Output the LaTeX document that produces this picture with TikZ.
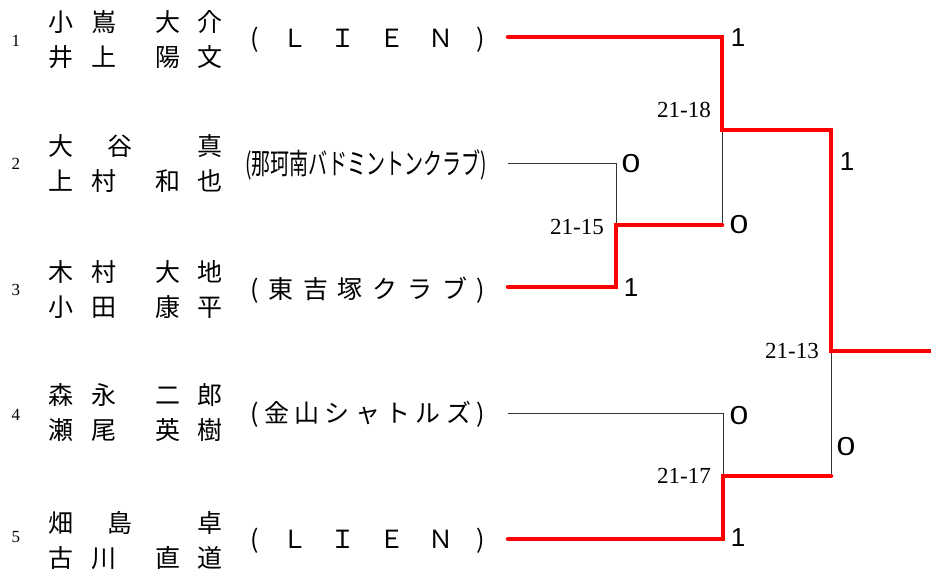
\documentclass[tikz,border=0pt]{standalone}
\usepackage{fontspec}
\usepackage{graphicx}
\setmainfont{Liberation Serif}
\newfontfamily\jpfont{Noto Sans CJK JP}
\newfontfamily\scorefont{Liberation Sans}

% name columns: four characters, or three with a gap
\newcommand{\fullname}[4]{\makebox[43pt][l]{#1}\makebox[64pt][l]{#2}\makebox[42pt][l]{#3}#4}
\newcommand{\gapname}[3]{\makebox[59pt][l]{#1}\makebox[90pt][l]{#2}#3}
\newcommand{\clubname}[1]{\makebox[235pt][s]{#1}}
\newcommand{\widezero}{\scalebox{1.3}[1]{0}}

\tikzset{
  win/.style={draw=red, line width=4.5pt, line cap=round},
  lose/.style={draw=black!80, line width=0.8pt}
}

\begin{document}
\begin{tikzpicture}[x=1pt, y=-1pt]
  \useasboundingbox (0,0) rectangle (931,571);

  % Seeds
  \begin{scope}[every node/.style={inner sep=0pt, font=\fontsize{17}{17}\selectfont}]
    \node (s1) at (16,41) {1};
    \node (s2) at (16,164) {2};
    \node (s3) at (16,290) {3};
    \node (s4) at (16,415) {4};
    \node (s5) at (16,537) {5};
  \end{scope}

  % Players
  \begin{scope}[every node/.style={anchor=west, inner sep=0pt, align=left,
      font=\jpfont\fontsize{25}{35}\selectfont}]
    \node (p1) at (48.5,40) {\fullname{小}{嶌}{大}{介}\\\fullname{井}{上}{陽}{文}};
    \node (p2) at (48.5,163) {\gapname{大}{谷}{真}\\\fullname{上}{村}{和}{也}};
    \node (p3) at (48.5,290) {\fullname{木}{村}{大}{地}\\\fullname{小}{田}{康}{平}};
    \node (p4) at (48.5,412) {\fullname{森}{永}{二}{郎}\\\fullname{瀬}{尾}{英}{樹}};
    \node (p5) at (48.5,541) {\gapname{畑}{島}{卓}\\\fullname{古}{川}{直}{道}};
  \end{scope}

  % Clubs
  \begin{scope}[every node/.style={anchor=west, inner sep=0pt,
      font=\jpfont\fontsize{25}{25}\selectfont}]
    \node (c1) at (250,40) {\clubname{(\hfill Ｌ\hfill Ｉ\hfill Ｅ\hfill Ｎ\hfill )}};
    \node[font=\jpfont\fontsize{29}{29}\selectfont] (c2) at (245,165)
      {\resizebox{242pt}{\height}{(那珂南バドミントンクラブ)}};
    \node (c3) at (250,290) {\clubname{(\hfill 東\hfill 吉\hfill 塚\hfill ク\hfill ラ\hfill ブ\hfill )}};
    \node (c4) at (250,414) {\clubname{(\hfill 金\hfill 山\hfill シ\hfill ャ\hfill ト\hfill ル\hfill ズ\hfill )}};
    \node (c5) at (250,541) {\clubname{(\hfill Ｌ\hfill Ｉ\hfill Ｅ\hfill Ｎ\hfill )}};
  \end{scope}

  % Bracket points
  \coordinate (e1) at (508,37);
  \coordinate (e2) at (508,163);
  \coordinate (e3) at (508,287);
  \coordinate (e4) at (508,413);
  \coordinate (e5) at (508,539);

  \coordinate (a2) at (616,163);
  \coordinate (a3) at (616,287);
  \coordinate (ma) at (616,225);

  \coordinate (b1) at (722,37);
  \coordinate (ba) at (722,225);
  \coordinate (mb) at (722,130);

  \coordinate (c4e) at (723,413);
  \coordinate (c5e) at (723,539);
  \coordinate (mc) at (723,476);

  \coordinate (fb) at (831,130);
  \coordinate (fc) at (831,476);
  \coordinate (mf) at (831,351);
  \coordinate (champ) at (931,351);

  % Losers
  \draw[lose] (e2) -- (a2) -- (ma);
  \draw[lose] (e4) -- (c4e) -- (mc);
  \draw[lose] (ba) -- (mb);
  \draw[lose] (fc) -- (mf);

  % Winners
  \draw[win] (e1) -- (b1) -- (mb) -- (fb) -- (mf) -- (champ);
  \draw[win] (e3) -- (a3) -- (ma) -- (ba);
  \draw[win] (e5) -- (c5e) -- (mc) -- (fc);

  % Game counts
  \begin{scope}[every node/.style={inner sep=0pt, font=\scorefont\fontsize{26}{26}\selectfont}]
    \node (g1) at (738,38) {1};
    \node (g2) at (631,164) {\widezero};
    \node (g3) at (631,288) {1};
    \node (ga) at (739,225) {\widezero};
    \node (gb) at (847,162) {1};
    \node (g4) at (739,416) {\widezero};
    \node (g5) at (738,538) {1};
    \node (gc) at (846,447) {\widezero};
  \end{scope}

  % Points
  \begin{scope}[every node/.style={anchor=east, inner sep=0pt, font=\fontsize{23}{23}\selectfont}]
    \node (ra) at (604,227) {21-15};
    \node (rb) at (711,110) {21-18};
    \node (rc) at (711,476) {21-17};
    \node (rf) at (819,351) {21-13};
  \end{scope}
\end{tikzpicture}
\end{document}
